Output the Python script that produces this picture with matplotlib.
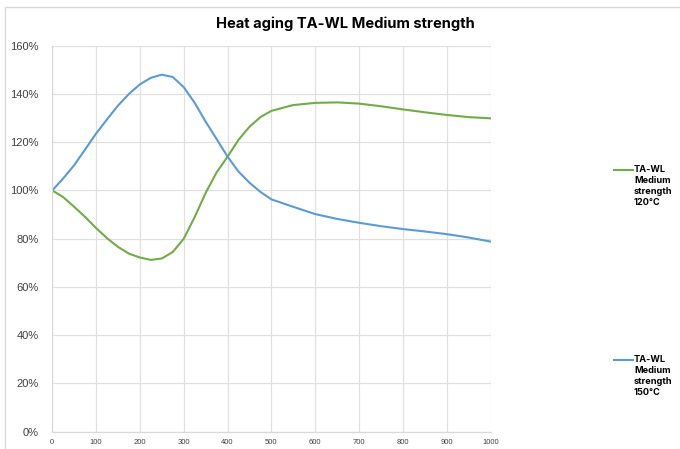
import matplotlib
matplotlib.use("Agg")
import matplotlib.pyplot as plt
from matplotlib.lines import Line2D
from matplotlib.patches import Rectangle
from matplotlib.ticker import PercentFormatter, MultipleLocator

# hours of heat aging (x) and retained strength in % (y)
hours = [0, 25, 50, 75, 100, 125, 150, 175, 200, 225, 250, 275, 300, 325, 350,
         375, 400, 425, 450, 475, 500, 550, 600, 650, 700, 750, 800, 850, 900,
         950, 1000]
strength_120 = [100, 97.2, 93.2, 89, 84.4, 80.2, 76.6, 73.8, 72.2, 71.2, 71.8,
                74.5, 80, 89, 99, 107.5, 114, 121, 126.4, 130.4, 133, 135.4,
                136.3, 136.5, 136, 134.9, 133.6, 132.4, 131.3, 130.4, 129.9]
strength_150 = [100, 105, 110.5, 117, 123.6, 129.5, 135.2, 140, 144, 146.7, 148,
                147, 142.8, 136.3, 128.5, 121.3, 114, 107.8, 103.2, 99.4, 96.3,
                93.2, 90.2, 88.2, 86.6, 85.2, 84.0, 83.0, 81.9, 80.5, 78.8]

series_names = ["TA-WL\nMedium\nstrength\n120°C", "TA-WL\nMedium\nstrength\n150°C"]
series_colors = ["#70ad47", "#5b9bd5"]
title = "Heat aging TA-WL Medium strength"

W, H = 680, 449
fig = plt.figure(figsize=(W / 100, H / 100), dpi=100)
ax = fig.add_axes([52.3 / W, 1 - 431.7 / H, 438.2 / W, 386 / H])

ax.plot(hours, strength_120, color=series_colors[0], lw=1.5,
        solid_capstyle="round", solid_joinstyle="round")
ax.plot(hours, strength_150, color=series_colors[1], lw=1.5,
        solid_capstyle="round", solid_joinstyle="round")

ax.set_xlim(0, 1000)
ax.set_ylim(0, 160)
ax.xaxis.set_major_locator(MultipleLocator(100))
ax.yaxis.set_major_locator(MultipleLocator(20))
ax.yaxis.set_major_formatter(PercentFormatter(decimals=0))
ax.grid(True, color="#e0e0e0", lw=0.9)
ax.set_axisbelow(True)
for side in ["top", "right"]:
    ax.spines[side].set_visible(False)
for side in ["left", "bottom"]:
    ax.spines[side].set_color("#d9d9d9")
    ax.spines[side].set_linewidth(0.9)
ax.tick_params(length=0)
ax.tick_params(axis="y", labelsize=8, labelcolor="#404040", pad=10)
ax.tick_params(axis="x", labelsize=5.5, labelcolor="#404040", pad=5)
for lbl in ax.get_xticklabels() + ax.get_yticklabels():
    lbl.set_family("Liberation Sans")

# chart frame
fig.add_artist(Rectangle((5 / W, -0.1), 1.2, 1.1 - 7 / H, transform=fig.transFigure,
                         fill=False, ec="#d9d9d9", lw=1))

fig.text(345 / W, 1 - 24 / H, title, ha="center", va="center",
         fontsize=10.6, fontweight="bold", family="Inter", color="#000000")

# legend entries on the right
for name, col, ly in zip(series_names, series_colors, [170, 360]):
    fig.add_artist(Line2D([614 / W, 633 / W], [1 - ly / H, 1 - ly / H],
                          transform=fig.transFigure, color=col, lw=1.5))
    fig.text(634 / W, 1 - (ly - 5) / H, name, ha="left", va="top",
             fontsize=6.6, fontweight="bold", family="Inter", linespacing=1.3)

fig.savefig("out.png", dpi=100)
